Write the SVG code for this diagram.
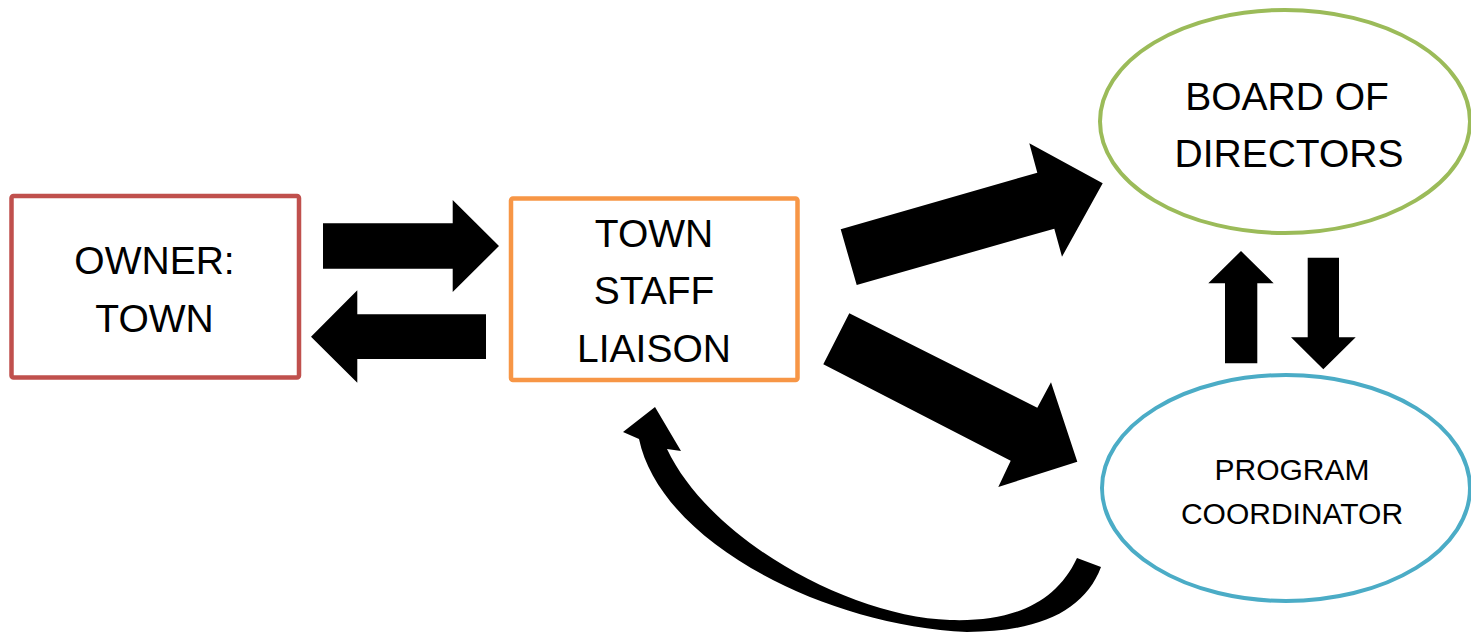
<svg xmlns="http://www.w3.org/2000/svg" width="1471" height="633" viewBox="0 0 1471 633">
<style>
.lbl{font-family:"Liberation Sans",Arial,sans-serif;font-size:39px;fill:#000;text-anchor:middle}
.sm{font-size:30px}
.arr{fill:#000;stroke:none}
</style>
<rect width="1471" height="633" fill="#fff"/>
<g id="owner">
<rect x="11.5" y="196" width="287.5" height="181.5" rx="2" fill="#fff" stroke="#C0504D" stroke-width="4.5"/>
<text class="lbl" x="154.5" y="273.5">OWNER:</text>
<text class="lbl" x="154.5" y="331.5">TOWN</text>
</g>
<g id="liaison">
<rect x="511" y="198.5" width="286.5" height="181.5" rx="2" fill="#fff" stroke="#F79646" stroke-width="4.5"/>
<text class="lbl" x="654" y="247">TOWN</text>
<text class="lbl" x="654" y="303.5">STAFF</text>
<text class="lbl" x="654" y="361.5">LIAISON</text>
</g>
<g id="board">
<ellipse cx="1285" cy="121.5" rx="185" ry="111.5" fill="#fff" stroke="#9BBB59" stroke-width="4"/>
<text class="lbl" x="1287" y="110">BOARD OF</text>
<text class="lbl" x="1289" y="166.5">DIRECTORS</text>
</g>
<g id="coordinator">
<ellipse cx="1286" cy="488" rx="184" ry="113" fill="#fff" stroke="#4BACC6" stroke-width="4"/>
<text class="lbl sm" x="1292" y="480">PROGRAM</text>
<text class="lbl sm" x="1292" y="524">COORDINATOR</text>
</g>
<g id="connectors">
<polygon class="arr" points="323,223.3 452.7,223.3 452.7,200 499,246 452.7,292 452.7,268.7 323,268.7"/>
<polygon class="arr" points="486,314.3 357.3,314.3 357.3,290.3 311,336.7 357.3,382.7 357.3,359 486,359"/>
<polygon class="arr" points="840.7,229.3 1037.3,172.7 1029.3,143.3 1102.7,183.3 1062,256.7 1054.3,228.7 856.7,285"/>
<polygon class="arr" points="849.3,313.3 1037.3,407.7 1051,382.3 1077.3,461.7 998.3,487 1010.7,460.7 823.3,364.3"/>
<polygon class="arr" points="1225,363.3 1225,283.3 1208.3,283.3 1241,251 1273.7,283.3 1257.3,283.3 1257.3,363.3"/>
<polygon class="arr" points="1307.7,257.7 1339,257.7 1339,337.3 1355.7,337.3 1323.3,369.3 1291,337.3 1307.7,337.3"/>
<path class="arr" stroke="#000" stroke-width="1.5" stroke-linejoin="round" d="M1101,567 C1085,610 1040,632 967,632 C820,625 660,540 639,439 L623,432 L655,407 L681,451 L667,449 C710,540 850,617 950,620 C1010,622 1055,605 1077,558 Z"/>
</g>
</svg>
